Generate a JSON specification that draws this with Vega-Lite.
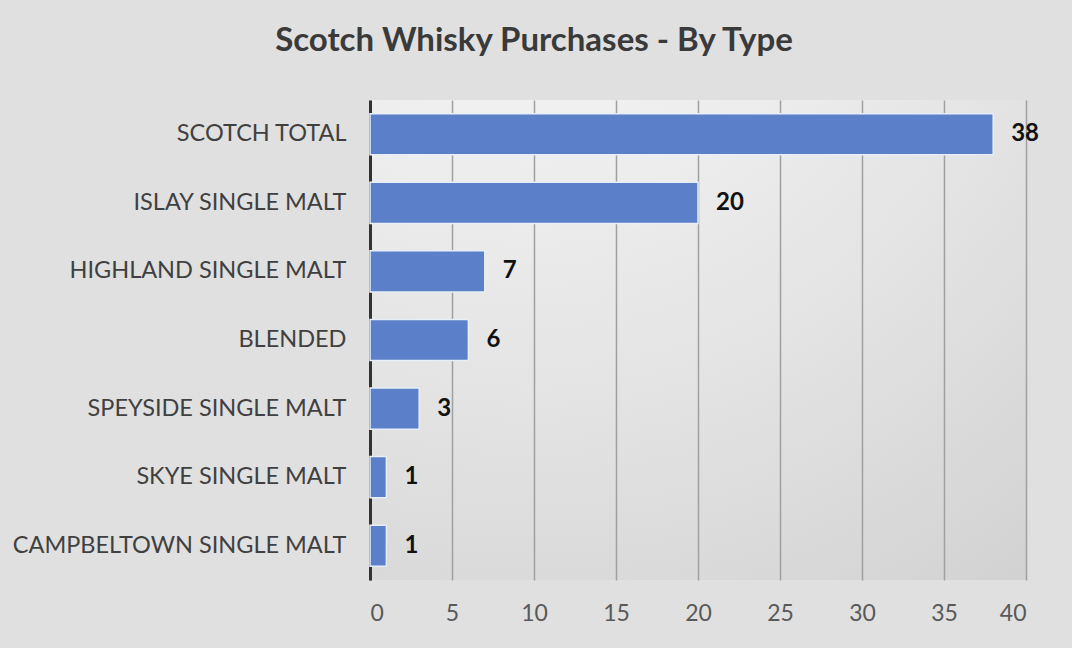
{
  "$schema": "https://vega.github.io/schema/vega-lite/v6.json",
  "autosize": "none",
  "width": 656,
  "height": 480,
  "padding": {"left": 370, "top": 100, "right": 46, "bottom": 68},
  "background": "#e0e0e0",
  "title": {
    "text": "Scotch Whisky Purchases - By Type",
    "font": "Lato",
    "fontSize": 33,
    "fontWeight": "bold",
    "color": "#3a3a3a",
    "anchor": "middle",
    "dx": -164,
    "offset": 42
  },
  "config": {
    "view": {
      "stroke": null,
      "fill": {
        "gradient": "radial",
        "x1": 0.25, "y1": -0.2, "r1": 0,
        "x2": 0.25, "y2": -0.2, "r2": 1.3,
        "stops": [
          {"offset": 0, "color": "#fafafa"},
          {"offset": 0.6, "color": "#e4e4e4"},
          {"offset": 1, "color": "#d2d2d2"}
        ]
      }
    },
    "font": "Lato"
  },
  "data": {
    "values": [
      {"type": "SCOTCH TOTAL", "count": 38},
      {"type": "ISLAY SINGLE MALT", "count": 20},
      {"type": "HIGHLAND SINGLE MALT", "count": 7},
      {"type": "BLENDED", "count": 6},
      {"type": "SPEYSIDE SINGLE MALT", "count": 3},
      {"type": "SKYE SINGLE MALT", "count": 1},
      {"type": "CAMPBELTOWN SINGLE MALT", "count": 1}
    ]
  },
  "encoding": {
    "y": {
      "field": "type",
      "type": "nominal",
      "sort": null,
      "scale": {"paddingInner": 0.4, "paddingOuter": 0.2},
      "axis": {
        "title": null,
        "ticks": false,
        "domain": true,
        "domainColor": "#333333",
        "domainWidth": 3,
        "labelFont": "Lato",
        "labelFontSize": 23.5,
        "labelColor": "#404040",
        "labelPadding": 24,
        "labelLimit": 400
      }
    },
    "x": {
      "field": "count",
      "type": "quantitative",
      "scale": {"domain": [0, 40]},
      "axis": {
        "title": null,
        "values": [0, 5, 10, 15, 20, 25, 30, 35, 40],
        "grid": true,
        "gridColor": "#a0a0a0",
        "gridWidth": 1.5,
        "domain": false,
        "ticks": false,
        "labelFont": "Lato",
        "labelFontSize": 23,
        "labelColor": "#595959",
        "labelPadding": 22
      }
    }
  },
  "layer": [
    {
      "mark": {"type": "bar", "color": "#5b80c9", "stroke": "#e8eef8", "strokeWidth": 1.5}
    },
    {
      "mark": {
        "type": "text",
        "align": "left",
        "baseline": "middle",
        "dx": 18,
        "font": "Lato",
        "fontSize": 24,
        "fontWeight": "bold",
        "color": "#111111"
      },
      "encoding": {"text": {"field": "count", "type": "quantitative"}}
    }
  ]
}
